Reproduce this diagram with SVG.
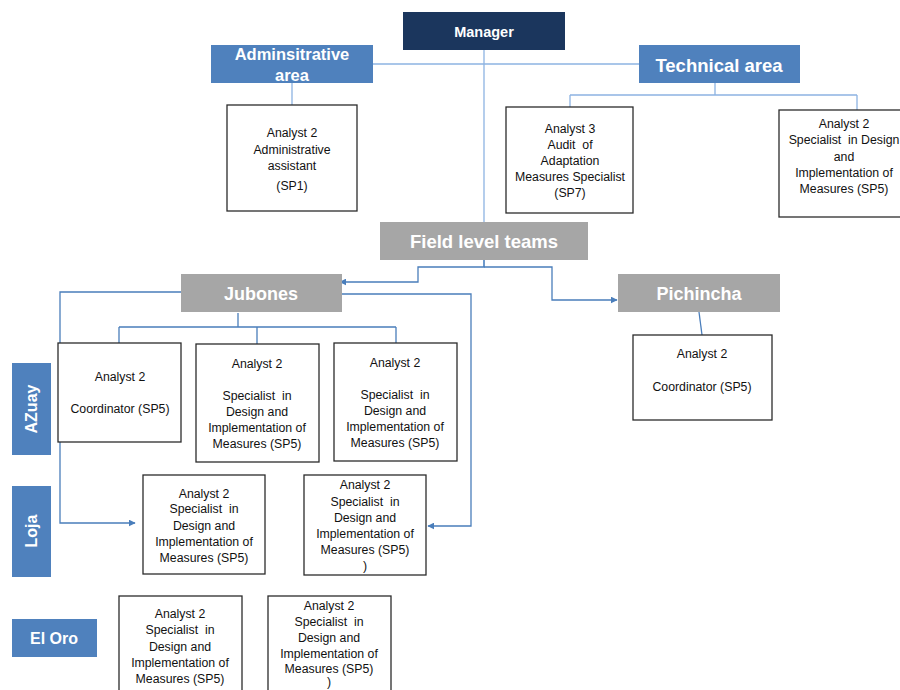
<svg xmlns="http://www.w3.org/2000/svg" width="900" height="690" viewBox="0 0 900 690">
<defs>
<style>
.bx{fill:#fff;stroke:#2b2b2b;stroke-width:1.3}
.t{font-family:"Liberation Sans",Arial,sans-serif;font-size:12.3px;fill:#111;text-anchor:middle;white-space:pre}
.h{font-family:"Liberation Sans",Arial,sans-serif;font-weight:bold;fill:#fff;text-anchor:middle}
.blue{fill:#4f81bd}
.gray{fill:#a6a6a6}
.lc{fill:none;stroke:#8db3e2;stroke-width:1.3}
.la{fill:none;stroke:#4a7ebb;stroke-width:1.3}
</style>
<marker id="arr" viewBox="0 0 10 10" refX="9" refY="5" markerWidth="7" markerHeight="7" orient="auto" markerUnits="userSpaceOnUse">
<path d="M0,0 L10,5 L0,10 z" fill="#4a7ebb"/>
</marker>
</defs>
<rect width="900" height="690" fill="#fff"/>
<g id="connectors">
<path class="lc" d="M373,64 H639"/>
<path class="lc" d="M484,50 V267"/>
<path class="lc" d="M292,83 V105"/>
<path class="lc" d="M715,83 V95 M570,95 H857 M570,95 V107 M857,95 V110"/>
<path class="la" d="M484,260 V267 H418 V282 H340" marker-end="url(#arr)"/>
<path class="la" d="M484,267 H552 V300 H617" marker-end="url(#arr)"/>
<path class="la" d="M189,292 H60 V523 H135" marker-end="url(#arr)"/>
<path class="la" d="M342,294 H471 V526 H428" marker-end="url(#arr)"/>
<path class="la" d="M238,313 V327 M119,327 H396 M119,327 V343 M257,327 V344 M396,327 V343"/>
<path class="la" d="M699,312 L702,335"/>
</g>
<g id="manager"><rect x="403" y="12" width="162" height="38" fill="#1b365d"/><text class="h" x="484" y="37" font-size="14.5">Manager</text></g>
<g id="admin-area"><rect class="blue" x="211" y="45" width="162" height="38"/><text class="h" x="292" y="60" font-size="16.5">Adminsitrative</text><text class="h" x="292" y="81" font-size="16.5">area</text></g>
<g id="tech-area"><rect class="blue" x="639" y="45" width="161" height="38"/><text class="h" x="719" y="72" font-size="18.5">Technical area</text></g>
<g id="admin-assistant"><rect class="bx" x="227" y="105" width="130" height="106"/>
<text class="t" x="292" y="137">Analyst 2</text><text class="t" x="292" y="154">Administrative</text><text class="t" x="292" y="170">assistant</text><text class="t" x="292" y="190">(SP1)</text></g>
<g id="audit"><rect class="bx" x="506" y="107" width="127" height="106"/>
<text class="t" x="570" y="133">Analyst 3</text><text class="t" x="570" y="149">Audit  of</text><text class="t" x="570" y="165">Adaptation</text><text class="t" x="570" y="181">Measures Specialist</text><text class="t" x="570" y="197">(SP7)</text></g>
<g id="tech-specialist"><rect class="bx" x="779" y="110" width="125" height="107"/>
<text class="t" x="844" y="128">Analyst 2</text><text class="t" x="844" y="144">Specialist  in Design</text><text class="t" x="844" y="161">and</text><text class="t" x="844" y="177">Implementation of</text><text class="t" x="844" y="193">Measures (SP5)</text></g>
<g id="field-teams"><rect class="gray" x="380" y="222" width="208" height="38"/><text class="h" x="484" y="248" font-size="18.5">Field level teams</text></g>
<g id="jubones"><rect class="gray" x="181" y="274" width="161" height="38"/><text class="h" x="261" y="300" font-size="18">Jubones</text></g>
<g id="pichincha"><rect class="gray" x="618" y="274" width="162" height="38"/><text class="h" x="699" y="300" font-size="18">Pichincha</text></g>
<g id="pichincha-coord"><rect class="bx" x="633" y="335" width="139" height="85"/>
<text class="t" x="702" y="358">Analyst 2</text><text class="t" x="702" y="391">Coordinator (SP5)</text></g>
<g id="azuay"><rect class="blue" x="12" y="363" width="39" height="92"/><text class="h" font-size="16" transform="translate(37,409) rotate(-90)">AZuay</text></g>
<g id="loja"><rect class="blue" x="12" y="486" width="39" height="91"/><text class="h" font-size="16" transform="translate(37,531) rotate(-90)">Loja</text></g>
<g id="eloro"><rect class="blue" x="12" y="619" width="85" height="38"/><text class="h" x="54" y="644" font-size="16">El Oro</text></g>
<g id="azuay-coord"><rect class="bx" x="58" y="343" width="123" height="99"/>
<text class="t" x="120" y="381">Analyst 2</text><text class="t" x="120" y="413">Coordinator (SP5)</text></g>
<g id="azuay-spec1"><rect class="bx" x="196" y="344" width="123" height="118"/>
<text class="t" x="257" y="368">Analyst 2</text><text class="t" x="257" y="400">Specialist  in</text><text class="t" x="257" y="416">Design and</text><text class="t" x="257" y="432">Implementation of</text><text class="t" x="257" y="448">Measures (SP5)</text></g>
<g id="azuay-spec2"><rect class="bx" x="334" y="343" width="123" height="118"/>
<text class="t" x="395" y="367">Analyst 2</text><text class="t" x="395" y="399">Specialist  in</text><text class="t" x="395" y="415">Design and</text><text class="t" x="395" y="431">Implementation of</text><text class="t" x="395" y="447">Measures (SP5)</text></g>
<g id="loja-spec1"><rect class="bx" x="143" y="475" width="122" height="99"/>
<text class="t" x="204" y="498">Analyst 2</text><text class="t" x="204" y="513">Specialist  in</text><text class="t" x="204" y="530">Design and</text><text class="t" x="204" y="546">Implementation of</text><text class="t" x="204" y="562">Measures (SP5)</text></g>
<g id="loja-spec2"><rect class="bx" x="304" y="475" width="122" height="100"/>
<text class="t" x="365" y="489">Analyst 2</text><text class="t" x="365" y="506">Specialist  in</text><text class="t" x="365" y="522">Design and</text><text class="t" x="365" y="538">Implementation of</text><text class="t" x="365" y="554">Measures (SP5)</text><text class="t" x="365" y="570">)</text></g>
<g id="eloro-spec1"><rect class="bx" x="119" y="596" width="123" height="100"/>
<text class="t" x="180" y="618">Analyst 2</text><text class="t" x="180" y="634">Specialist  in</text><text class="t" x="180" y="651">Design and</text><text class="t" x="180" y="667">Implementation of</text><text class="t" x="180" y="683">Measures (SP5)</text></g>
<g id="eloro-spec2"><rect class="bx" x="268" y="596" width="123" height="100"/>
<text class="t" x="329" y="610">Analyst 2</text><text class="t" x="329" y="626">Specialist  in</text><text class="t" x="329" y="642">Design and</text><text class="t" x="329" y="658">Implementation of</text><text class="t" x="329" y="673">Measures (SP5)</text><text class="t" x="329" y="686">)</text></g>
</svg>
